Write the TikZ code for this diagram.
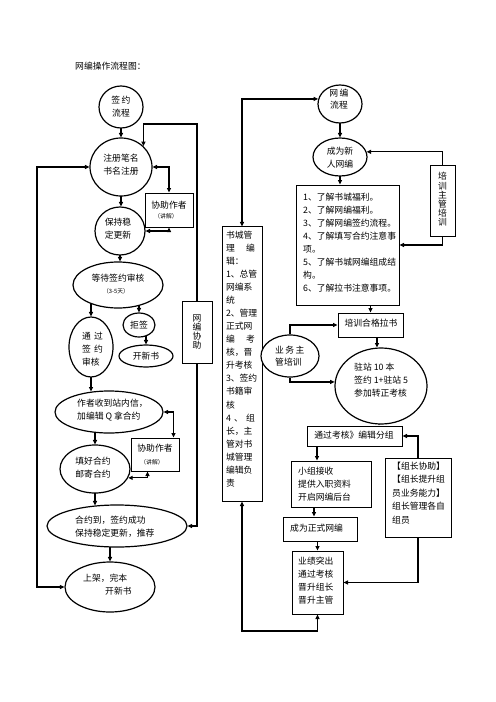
\documentclass[tikz,border=0pt]{standalone}
\usepackage{fontspec}
\setmainfont{Liberation Serif}
\newfontfamily\cjk{Noto Sans CJK SC}
\usetikzlibrary{shapes.geometric,arrows.meta,calc}
\pgfdeclarelayer{bg}
\pgfsetlayers{bg,main}
\newcommand\myvfont{\cjk\fontsize{8.8bp}{9.2bp}\selectfont\lineskiplimit=-100pt\lineskip=0pt\relax}
\begin{document}
\begin{tikzpicture}[x=1bp,y=-1bp,
  ell/.style={draw, ellipse, fill=white, line width=1.2bp, inner sep=0pt},
  box/.style={draw, rectangle, fill=white, line width=1bp, inner sep=0pt},
  txt/.style={font=\cjk\fontsize{8.8bp}{13bp}\selectfont, inner sep=0pt, align=left},
  stxt/.style={font=\cjk\fontsize{5.8bp}{7bp}\selectfont, inner sep=0pt},
  vtxt/.style={font=\myvfont, inner sep=0pt, align=center},
  arr/.style={line width=1.1bp, -{Triangle[length=4.5bp,width=4bp]}},
  darr/.style={line width=1.1bp, {Triangle[length=4.5bp,width=4bp]}-{Triangle[length=4.5bp,width=4bp]}},
]
\useasboundingbox (0,0) rectangle (496,702);

\node[txt, anchor=west] (title) at (75,66) {网编操作流程图：};

% ---------- left column ----------
\node[ell, minimum width=44bp, minimum height=42bp] (qy) at (121,107) {};
\node[txt, align=center] (qyt) at (121,106.5) {签\,约\\流程};
\node[ell, minimum width=62bp, minimum height=58bp] (zc) at (121,167) {};
\node[txt, align=center] (zct) at (121,164.5) {注册笔名\\书名注册};
\node[ell, minimum width=50bp, minimum height=48bp] (bc) at (120,231) {};
\node[txt, align=center] (bct) at (118,229) {保持稳\\定更新};
\node[ell, minimum width=90bp, minimum height=46bp] (dd) at (118,285) {};
\node[txt] (ddt) at (118,278) {等待签约审核};
\node[stxt] (dds) at (116,291) {（3-5天）};
\node[ell, minimum width=44bp, minimum height=60bp] (tg) at (91,347) {};
\node[txt, text width=21bp] (tgt) at (92.5,349.5) {通\hfill 过\\签\hfill 约\\审核};
\node[ell, minimum width=32bp, minimum height=24bp] (jq) at (139,325) {};
\node[txt] (jqt) at (139,325) {拒签};
\node[ell, minimum width=54bp, minimum height=22bp] (kx) at (146,356) {};
\node[txt] (kxt) at (146,356) {开新书};
\node[ell, minimum width=108bp, minimum height=42bp] (zz) at (109,412) {};
\node[txt, anchor=west] (zzt) at (77,410.5) {作者收到站内信，\\加编辑 Q 拿合约};
\node[box, minimum width=48bp, minimum height=34bp] (xz1) at (169,210) {};
\node[txt] (xz1a) at (169,205) {协助作者};
\node[stxt] (xz1b) at (166,216) {（讲解）};
\node[box, minimum width=48bp, minimum height=33bp] (xz2) at (155,454.5) {};
\node[txt] (xz2a) at (155,448) {协助作者};
\node[stxt] (xz2b) at (152,462) {（讲解）};
\node[ell, minimum width=70bp, minimum height=48bp] (th) at (95,469) {};
\node[txt, align=center] (tht) at (93,468) {填好合约\\邮寄合约};
\node[ell, minimum width=140bp, minimum height=42bp] (hy) at (117,526) {};
\node[txt, anchor=west] (hyt) at (75,527) {合约到，签约成功\\保持稳定更新，推荐};
\node[ell, minimum width=90bp, minimum height=50bp] (sj) at (110,587) {};
\node[txt, anchor=west] (sjt) at (83,584.5) {上架，完本\\\hspace*{22bp}开新书};
\node[box, minimum width=30bp, minimum height=62bp] (xb) at (197,332) {};
\node[vtxt] (xbt) at (197,332) {网\\编\\协\\助};

% ---------- middle ----------
\node[box, minimum width=40bp, minimum height=274bp] (sc) at (242,364) {};
\node[txt, text width=29bp, font=\cjk\fontsize{8.8bp}{13.05bp}\selectfont] (sct) at (240.5,359) {书城管\\理\hfill 编\\辑：\\1、总管\\网编系\\统\\2、管理\\正式网\\编\hfill 考\\核，晋\\升考核\\3、签约\\书籍审\\核\\4\hfill 、\hfill 组\\长，主\\管对书\\城管理\\编辑负\\责};

% ---------- right column ----------
\node[ell, minimum width=44bp, minimum height=38bp] (wb) at (340,104) {};
\node[txt, align=center, font=\cjk\fontsize{8.8bp}{12bp}\selectfont] (wbt) at (339,99) {网\,编\\流程};
\node[ell, minimum width=54bp, minimum height=38bp] (cx) at (340,157) {};
\node[txt, align=center] (cxt) at (340,157.5) {成为新\\人网编};
\node[box, minimum width=103bp, minimum height=120bp] (lb) at (347.5,245) {};
\node[txt, anchor=west] (lbt) at (303,242.5) {1、了解书城福利。\\2、了解网编福利。\\3、了解网编签约流程。\\4、了解填写合约注意事\\项。\\5、了解书城网编组成结\\构。\\6、了解拉书注意事项。};
\node[box, minimum width=25bp, minimum height=71bp] (px) at (442.5,200.5) {};
\node[vtxt] (pxt) at (442.5,199.5) {培\\训\\主\\管\\培\\训};
\node[box, minimum width=65bp, minimum height=24bp] (pg) at (370.5,325) {};
\node[txt] (pgt) at (371,323.5) {培训合格拉书};
\node[ell, minimum width=58bp, minimum height=42bp] (yw) at (290,356) {};
\node[txt, anchor=west, font=\cjk\fontsize{8.8bp}{12bp}\selectfont] (ywt) at (275,356) {业\,务\,主\\管培训};
\node[ell, minimum width=92bp, minimum height=76bp] (zn) at (381,386) {};
\node[txt, anchor=west] (znt) at (354,380) {驻站 10 本\\签约 1+驻站 5\\参加转正考核};
\node[box, minimum width=95bp, minimum height=20bp] (tk) at (354.5,436) {};
\node[txt] (tkt) at (354,435) {通过考核》编辑分组};
\node[box, minimum width=80bp, minimum height=46bp] (xj) at (331,484) {};
\node[txt, anchor=west] (xjt) at (298,484) {小组接收\\提供入职资料\\开启网编后台};
\node[box, minimum width=66bp, minimum height=79bp] (zx) at (418,497.5) {};
\node[txt, anchor=west, font=\cjk\fontsize{8.8bp}{13.5bp}\selectfont] (zxt) at (392,493) {【组长协助】\\【组长提升组\\员业务能力】\\组长管理各自\\组员};
\node[box, minimum width=74bp, minimum height=24bp] (zs) at (320,529) {};
\node[txt, anchor=west] (zst) at (290,528) {成为正式网编};
\node[box, minimum width=51bp, minimum height=63bp] (yj) at (317.5,582.5) {};
\node[txt, anchor=west] (yjt) at (298,580.5) {业绩突出\\通过考核\\晋升组长\\晋升主管};

% ---------- connectors ----------
\begin{pgfonlayer}{bg}
\draw[arr] (qy.center) -- (zc.north);
\draw[arr] (zc.center) -- (zc.center |- bc.north);
\draw[arr] (bc.center) -- (bc.center |- dd.north);
\draw[arr] (dd.center -| tg.north) -- (tg.north);
\draw[arr] (dd.center -| jq.north) -- (jq.north);
\draw[arr] (jq.center -| kx.north) -- (kx.north);
\draw[arr] (tg.center) -- ($(tg.center |- zz.north)+(0,1.2)$);
\draw[arr] (zz.center -| th.north) -- (th.north);
\draw[arr] (th.center) -- ($(th.center |- hy.north)+(0,1.0)$);
\draw[arr] (hy.center -| sj.north) -- (sj.north);
\coordinate (L) at (37,0);
\draw[darr] (zc.west) -- (zc.west -| L) -- (L |- sj.west) -- (sj.west);
\coordinate (R) at (197,124);
\draw[darr] (hy.east) -| (R) -| (zc.43);
\draw[darr] (zc.east) -| (xz1.north);
\draw[darr] (bc.east) -| (xz1.south);
\draw[darr] (zz.east) -| ($(xz2.north east)+(-6,0)$);
\draw[darr] (th.-15) -| ($(xz2.south west)+(17,0)$);
\draw[darr] (sc.north) |- (wb.167);
\coordinate (B) at (0,631);
\draw[darr] (sc.south) -- (sc.south |- B) -| (yj.south);
\draw[arr] (wb.center) -- (wb.center |- cx.north);
\draw[arr] (cx.center) -- (cx.center |- lb.north);
\draw[arr] (px.north) |- (cx.11);
\draw[arr] (px.south) |- (lb.east);
\draw[arr] (pg.north |- lb.center) -- (pg.north);
\coordinate (c3) at ($(zn.center)+(-4,0)$);
\draw[arr] (c3 |- pg.center) -- ($(c3 |- zn.north)+(0,0.2)$);
\draw[arr] (yw.north) |- (pg.west);
\draw[arr] (yw.south) |- (zn.175);
\coordinate (c2) at ($(zn.center)+(-2,0)$);
\draw[arr] (c2) -- (c2 |- tk.north);
\coordinate (c4) at ($(tk.center)+(-37.5,0)$);
\draw[arr] (c4) -- (c4 |- xj.north);
\draw[arr] (zx.north) |- (tk.east);
\draw[arr] (zx.south) |- (yj.east);
\coordinate (c5) at ($(xj.center)+(-17,0)$);
\draw[arr] (c5) -- (c5 |- zs.north);
\draw[arr] (zs.center -| yj.north) -- (yj.north);
\end{pgfonlayer}
\end{tikzpicture}
\end{document}
